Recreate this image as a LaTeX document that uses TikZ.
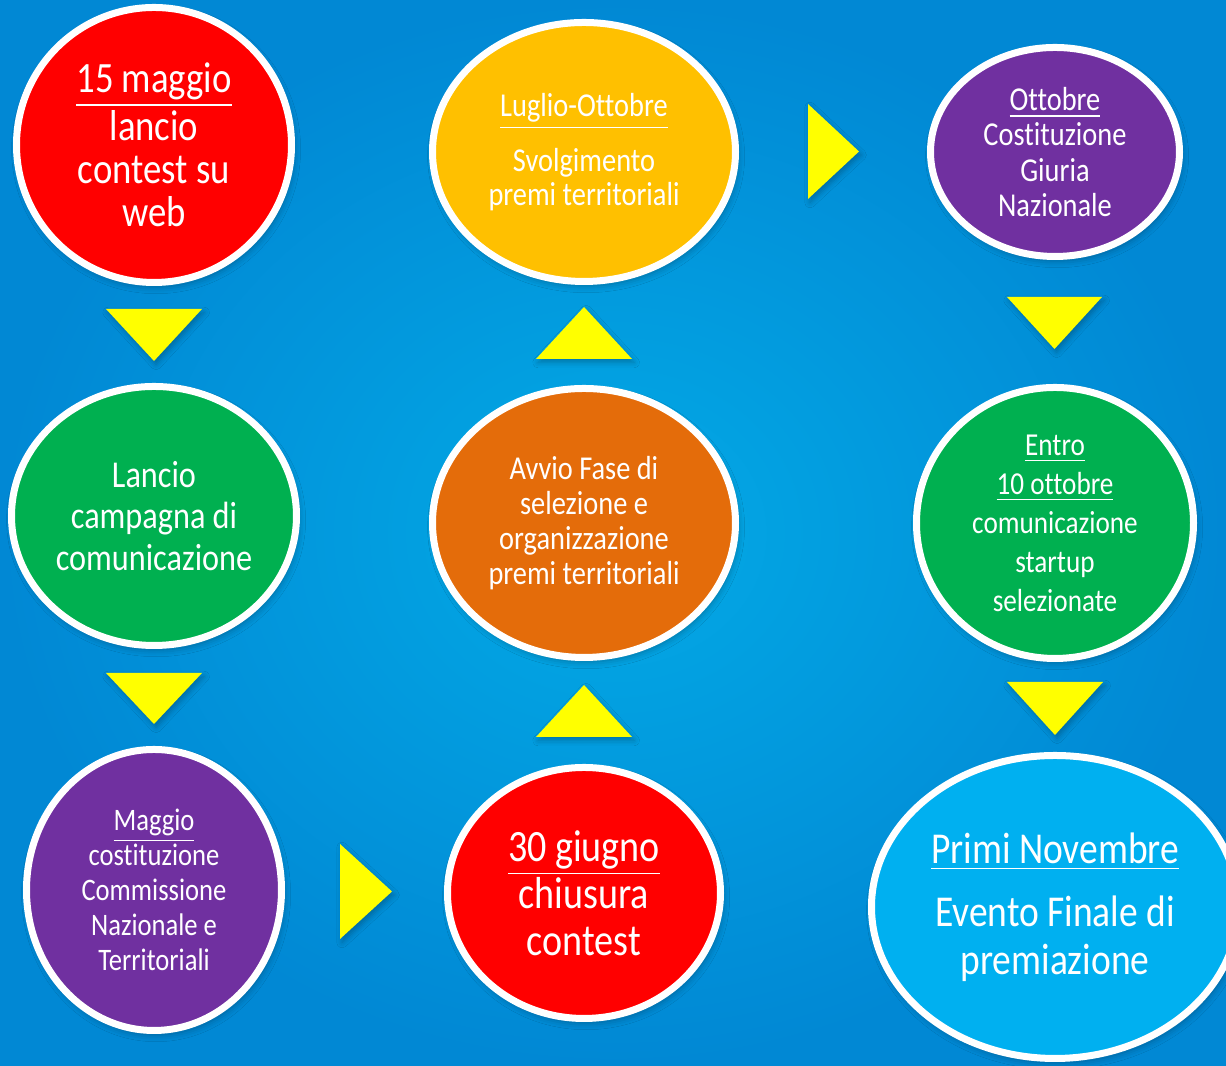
\documentclass[tikz,border=0pt]{standalone}
\usepackage{fontspec}
\setmainfont{Carlito}[FakeStretch=0.85, Ligatures=NoCommon]
\usetikzlibrary{shapes.geometric,shadows.blur}
\definecolor{bgin}{RGB}{3,170,230}
\definecolor{bgout}{RGB}{1,136,212}
\definecolor{triyellow}{RGB}{255,255,0}
\definecolor{cred}{RGB}{255,0,0}
\definecolor{cgreen}{RGB}{0,176,80}
\definecolor{cpurple}{RGB}{112,48,160}
\definecolor{cgold}{RGB}{255,192,0}
\definecolor{corange}{RGB}{228,108,10}
\definecolor{cblue}{RGB}{0,176,240}
\newcommand{\setsz}[2]{\fontsize{#1}{#2}\selectfont}
\tikzset{
  stage/.style={ellipse, draw=white, line width=0.07cm, text=white, align=center, inner sep=0pt,
    blur shadow={shadow xshift=0.6pt, shadow yshift=-1.2pt, shadow opacity=30, shadow blur radius=2pt}},
  arrowtri/.style={fill=triyellow,
    blur shadow={shadow xshift=0.6pt, shadow yshift=-1pt, shadow opacity=25, shadow blur radius=1.5pt}}
}
\begin{document}
\begin{tikzpicture}
            \useasboundingbox (0,0) rectangle (12.26,10.66);
            \clip (0,0) rectangle (12.26,10.66);
            \shade[inner color=bgin, outer color=bgout] (0,0) rectangle (12.26,10.66);
            % stages
            \node[stage, fill=cred, minimum width=2.75cm, minimum height=2.75cm, font={\setsz{12.3}{12.2}}] (e1) at (1.54, 9.21) {\underline{15 maggio}\\lancio\\contest su\\web};
            \node[stage, fill=cgreen, minimum width=2.85cm, minimum height=2.59cm, font={\setsz{10.8}{11.7}}] (e2) at (1.54, 5.50) {Lancio\\campagna di\\comunicazione};
            \node[stage, fill=cpurple, minimum width=2.55cm, minimum height=2.81cm, font={\setsz{8.9}{10}}] (e3) at (1.54, 1.76) {\underline{Maggio}\\costituzione\\Commissione\\Nazionale e\\Territoriali};
            \node[stage, fill=cred, minimum width=2.73cm, minimum height=2.51cm, font={\setsz{12.75}{13.4}}] (e4) at (5.84, 1.73) {\underline{30 giugno}\\chiusura\\contest};
            \node[stage, fill=corange, minimum width=3.03cm, minimum height=2.69cm, font={\setsz{9.5}{10}}] (e5) at (5.84, 5.43) {Avvio Fase di\\selezione e\\organizzazione\\premi territoriali};
            \node[stage, fill=cgold, minimum width=3.03cm, minimum height=2.59cm, font={\setsz{9.5}{9.7}}] (e6) at (5.84, 9.14) {\underline{Luglio-Ottobre}\\[4.3pt]Svolgimento\\premi territoriali};
            \node[stage, fill=cpurple, minimum width=2.49cm, minimum height=2.09cm, font={\setsz{9.5}{10}}] (e7) at (10.55, 9.14) {\underline{Ottobre}\\Costituzione\\Giuria\\Nazionale};
            \node[stage, fill=cgreen, minimum width=2.77cm, minimum height=2.71cm, font={\setsz{9.1}{11.1}}] (e8) at (10.55, 5.43) {\underline{Entro}\\\underline{10 ottobre}\\comunicazione\\startup\\selezionate};
            \node[stage, fill=cblue, minimum width=3.67cm, minimum height=3.03cm, font={\setsz{12.55}{13.6}}] (e9) at (10.55, 1.59) {\underline{Primi Novembre}\\[4.5pt]Evento Finale di\\premiazione};
            % arrows
            \fill[arrowtri] (1.06,7.57) -- (2.02,7.57) -- (1.54,7.05) -- cycle;
            \fill[arrowtri] (1.06,3.93) -- (2.02,3.93) -- (1.54,3.42) -- cycle;
            \fill[arrowtri] (3.40,2.22) -- (3.40,1.27) -- (3.92,1.745) -- cycle;
            \fill[arrowtri] (5.36,3.29) -- (6.32,3.29) -- (5.84,3.81) -- cycle;
            \fill[arrowtri] (5.36,7.07) -- (6.32,7.07) -- (5.84,7.59) -- cycle;
            \fill[arrowtri] (8.08,9.62) -- (8.08,8.67) -- (8.59,9.145) -- cycle;
            \fill[arrowtri] (10.07,7.69) -- (11.02,7.69) -- (10.545,7.17) -- cycle;
            \fill[arrowtri] (10.07,3.84) -- (11.03,3.84) -- (10.55,3.31) -- cycle;
        \end{tikzpicture}
\end{document}
